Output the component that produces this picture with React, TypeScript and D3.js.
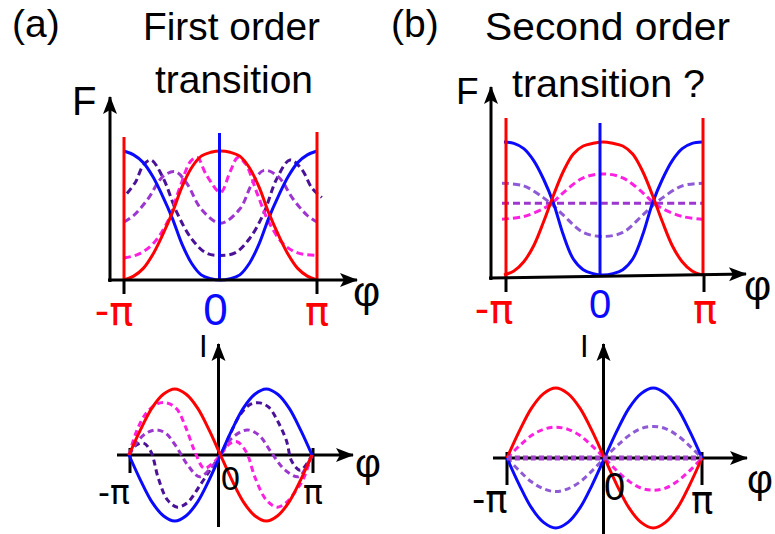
import * as d3 from 'd3'

type Pt = [number, number]

// φ is given in units of π; F is normalised to its maximum, I to the critical current
const PHI_LABELS = ['-π', '0', 'π']
const TITLE_A = ['First order', 'transition']
const TITLE_B = ['Second order', 'transition ?']

// (a) free energy
const A_F_RED: Pt[] = [[-1, 0], [-0.9, 0.03], [-0.8, 0.09], [-0.7, 0.2], [-0.6, 0.35], [-0.5, 0.52], [-0.4, 0.72], [-0.3, 0.87], [-0.2, 0.96], [-0.1, 0.99], [0, 1], [0.1, 0.99], [0.2, 0.96], [0.3, 0.87], [0.4, 0.72], [0.5, 0.52], [0.6, 0.35], [0.7, 0.2], [0.8, 0.09], [0.9, 0.03], [1, 0]]
const A_F_BLUE: Pt[] = [[-1, 1], [-0.9, 0.97], [-0.8, 0.91], [-0.7, 0.8], [-0.6, 0.65], [-0.5, 0.48], [-0.4, 0.28], [-0.3, 0.13], [-0.2, 0.04], [-0.1, 0.01], [0, 0], [0.1, 0.01], [0.2, 0.04], [0.3, 0.13], [0.4, 0.28], [0.5, 0.48], [0.6, 0.65], [0.7, 0.8], [0.8, 0.91], [0.9, 0.97], [1, 1]]
const A_F_INDIGO: Pt[] = [[-0.97, 0.67], [-0.88, 0.76], [-0.8, 0.89], [-0.72, 0.93], [-0.6, 0.8], [-0.45, 0.52], [-0.3, 0.32], [-0.15, 0.21], [0, 0.19], [0.15, 0.21], [0.3, 0.32], [0.45, 0.52], [0.58, 0.78], [0.72, 0.93], [0.84, 0.86], [0.95, 0.71], [1.05, 0.64]]
const A_F_ORCHID: Pt[] = [[-1, 0.45], [-0.9, 0.5], [-0.75, 0.63], [-0.6, 0.8], [-0.47, 0.84], [-0.35, 0.75], [-0.2, 0.55], [0, 0.44], [0.2, 0.55], [0.33, 0.75], [0.45, 0.85], [0.6, 0.8], [0.75, 0.63], [0.9, 0.5], [1, 0.45]]
const A_F_MAGENTA: Pt[] = [[-1, 0.17], [-0.85, 0.2], [-0.7, 0.28], [-0.55, 0.45], [-0.42, 0.72], [-0.31, 0.92], [-0.24, 0.95], [-0.15, 0.82], [0, 0.68], [0.1, 0.84], [0.18, 0.95], [0.26, 0.9], [0.38, 0.67], [0.5, 0.45], [0.65, 0.28], [0.8, 0.21], [1, 0.19]]

// (b) free energy
const B_F_RED: Pt[] = [[-1, 0], [-0.9, 0.03], [-0.8, 0.1], [-0.7, 0.22], [-0.6, 0.4], [-0.5, 0.6], [-0.4, 0.78], [-0.3, 0.91], [-0.2, 0.97], [-0.1, 0.99], [0, 1], [0.1, 0.99], [0.2, 0.97], [0.3, 0.91], [0.4, 0.78], [0.5, 0.6], [0.6, 0.4], [0.7, 0.22], [0.8, 0.1], [0.9, 0.03], [1, 0]]
const B_F_BLUE: Pt[] = [[-1, 1], [-0.9, 0.99], [-0.8, 0.95], [-0.7, 0.86], [-0.6, 0.72], [-0.5, 0.54], [-0.4, 0.3], [-0.3, 0.12], [-0.2, 0.04], [-0.1, 0.01], [0, 0], [0.1, 0.01], [0.2, 0.04], [0.3, 0.12], [0.4, 0.3], [0.5, 0.54], [0.6, 0.72], [0.7, 0.86], [0.8, 0.95], [0.9, 0.99], [1, 1]]
const B_F_MAGENTA: Pt[] = [[-1.02, 0.42], [-0.8, 0.44], [-0.6, 0.5], [-0.5, 0.55], [-0.4, 0.62], [-0.2, 0.73], [0, 0.76], [0.2, 0.73], [0.4, 0.62], [0.5, 0.55], [0.6, 0.5], [0.8, 0.44], [1, 0.42]]
const B_F_LAVENDER: Pt[] = [[-1.02, 0.69], [-0.8, 0.67], [-0.6, 0.58], [-0.5, 0.52], [-0.4, 0.45], [-0.2, 0.32], [0, 0.29], [0.2, 0.32], [0.4, 0.45], [0.5, 0.52], [0.6, 0.58], [0.8, 0.67], [1, 0.69]]
const B_F_FLAT: Pt[] = [[-1.02, 0.54], [0, 0.54], [1, 0.54]]

// (a) current
const A_I_RED: Pt[] = [[-1, 0], [-0.875, 0.38], [-0.75, 0.71], [-0.625, 0.92], [-0.5, 1], [-0.375, 0.92], [-0.25, 0.71], [-0.125, 0.38], [0, 0], [0.125, -0.38], [0.25, -0.71], [0.375, -0.92], [0.5, -1], [0.625, -0.92], [0.75, -0.71], [0.875, -0.38], [1, 0]]
const A_I_BLUE: Pt[] = [[-1, 0], [-0.875, -0.38], [-0.75, -0.71], [-0.625, -0.92], [-0.5, -1], [-0.375, -0.92], [-0.25, -0.71], [-0.125, -0.38], [0, 0], [0.125, 0.38], [0.25, 0.71], [0.375, 0.92], [0.5, 1], [0.625, 0.92], [0.75, 0.71], [0.875, 0.38], [1, 0]]
const A_I_MAGENTA: Pt[] = [[-1, 0], [-0.92, 0.35], [-0.82, 0.62], [-0.7, 0.77], [-0.59, 0.79], [-0.48, 0.7], [-0.38, 0.42], [-0.28, 0.05], [-0.18, -0.2], [-0.08, -0.12], [0, 0], [0.1, 0.17], [0.18, 0.2], [0.28, 0.05], [0.38, -0.35], [0.5, -0.68], [0.62, -0.79], [0.72, -0.72], [0.82, -0.55], [0.9, -0.38], [0.95, -0.2], [1, 0]]
const A_I_ORCHID: Pt[] = [[-1, 0], [-0.9, 0.22], [-0.8, 0.34], [-0.7, 0.38], [-0.6, 0.33], [-0.48, 0.12], [-0.36, -0.15], [-0.23, -0.33], [-0.12, -0.22], [0, 0], [0.12, 0.25], [0.29, 0.38], [0.42, 0.3], [0.55, 0.05], [0.7, -0.22], [0.85, -0.33], [0.93, -0.2], [1, 0]]
const A_I_INDIGO: Pt[] = [[-1, 0], [-0.92, 0.15], [-0.84, 0.18], [-0.76, 0.05], [-0.68, -0.35], [-0.58, -0.68], [-0.47, -0.79], [-0.36, -0.72], [-0.22, -0.45], [-0.1, -0.2], [0, 0], [0.1, 0.3], [0.22, 0.62], [0.33, 0.77], [0.43, 0.79], [0.53, 0.72], [0.63, 0.5], [0.72, 0.22], [0.78, -0.1], [0.87, -0.23], [0.95, -0.12], [1, 0]]

// (b) current
const B_I_RED: Pt[] = A_I_RED
const B_I_BLUE: Pt[] = A_I_BLUE
const B_I_MAGENTA: Pt[] = [[-1, 0], [-0.875, 0.17], [-0.75, 0.32], [-0.625, 0.41], [-0.5, 0.44], [-0.375, 0.41], [-0.25, 0.32], [-0.125, 0.17], [0, 0], [0.125, -0.18], [0.25, -0.33], [0.375, -0.43], [0.5, -0.46], [0.625, -0.43], [0.75, -0.33], [0.875, -0.18], [1, 0]]
const B_I_LAVENDER: Pt[] = [[-1, 0], [-0.875, -0.18], [-0.75, -0.34], [-0.625, -0.44], [-0.5, -0.48], [-0.375, -0.44], [-0.25, -0.34], [-0.125, -0.18], [0, 0], [0.125, 0.17], [0.25, 0.32], [0.375, 0.42], [0.5, 0.45], [0.625, 0.42], [0.75, 0.32], [0.875, 0.17], [1, 0]]
const B_I_FLAT: Pt[] = [[-1, 0], [0, 0], [1, 0]]

const RED = '#ff0000'
const BLUE = '#0a0aff'
const MAGENTA = '#ff1fe0'
const ORCHID = '#9d35cf'
const INDIGO = '#4a1299'
const LAVENDER = '#8e5ad6'
const FONT = 'Liberation Sans, Arial, sans-serif'
const PI_FONT = 'DejaVu Sans, sans-serif'

type Series = { pts: Pt[]; color: string; dash?: string; width?: number }

function Curves({ series, x, y }: { series: Series[]; x: d3.ScaleLinear<number, number>; y: d3.ScaleLinear<number, number> }) {
  const line = d3.line<Pt>().x(d => x(d[0])).y(d => y(d[1])).curve(d3.curveCatmullRom.alpha(0.5))
  return (
    <g fill="none">
      {series.map((s, i) => (
        <path key={i} d={line(s.pts) || ''} stroke={s.color} strokeWidth={s.width ?? 3} strokeDasharray={s.dash} />
      ))}
    </g>
  )
}

const DASH = '7,4'

export default function App() {
  // top panels: F(φ)
  const xa = d3.scaleLinear().domain([-1, 1]).range([124, 317])
  const ya = d3.scaleLinear().domain([0, 1]).range([280, 151])
  const xb = d3.scaleLinear().domain([-1, 1]).range([504, 702])
  const yb = d3.scaleLinear().domain([0, 1]).range([275, 142])
  // bottom panels: I(φ)
  const xc = d3.scaleLinear().domain([-1, 1]).range([129, 312])
  const yc = d3.scaleLinear().domain([-1, 1]).range([521, 389])
  const xd = d3.scaleLinear().domain([-1, 1]).range([507, 702])
  const yd = d3.scaleLinear().domain([-1, 1]).range([528, 388])

  const txt = { fontFamily: FONT }
  const pi = { fontFamily: PI_FONT }

  return (
    <svg width={775} height={534} style={{ position: 'absolute', left: 0, top: 0, background: '#fff' }}>
      <defs>
        <marker id="arr" viewBox="-20 -10 22 20" refX={0} refY={0} markerWidth={22} markerHeight={20}
          markerUnits="userSpaceOnUse" orient="auto">
          <path d="M1,0 L-17,-7 L-13,0 L-17,7 Z" fill="#000" />
        </marker>
      </defs>

      {/* titles */}
      <g {...txt} fontSize={39} fill="#000">
        <text x={12} y={37}>(a)</text>
        <text x={143} y={40} textLength={177} lengthAdjust="spacingAndGlyphs">{TITLE_A[0]}</text>
        <text x={155} y={93} textLength={158} lengthAdjust="spacingAndGlyphs">{TITLE_A[1]}</text>
        <text x={391} y={37}>(b)</text>
        <text x={485} y={40} textLength={245} lengthAdjust="spacingAndGlyphs">{TITLE_B[0]}</text>
        <text x={512} y={97} textLength={193} lengthAdjust="spacingAndGlyphs">{TITLE_B[1]}</text>
      </g>

      {/* ---------- (a) top: F ---------- */}
      <g>
        <Curves x={xa} y={ya} series={[
          { pts: A_F_INDIGO, color: INDIGO, dash: DASH },
          { pts: A_F_ORCHID, color: ORCHID, dash: DASH },
          { pts: A_F_MAGENTA, color: MAGENTA, dash: DASH },
          { pts: A_F_BLUE, color: BLUE },
          { pts: A_F_RED, color: RED },
        ]} />
        <line x1={xa(0) - 1} x2={xa(0) - 1} y1={133} y2={280} stroke={BLUE} strokeWidth={3} />
        <line x1={xa(-1)} x2={xa(-1)} y1={137} y2={280} stroke={RED} strokeWidth={3} />
        <line x1={xa(1)} x2={xa(1)} y1={132} y2={280} stroke={RED} strokeWidth={3} />
        <line x1={110} x2={110} y1={282} y2={97} stroke="#000" strokeWidth={3} markerEnd="url(#arr)" />
        <line x1={108} x2={357} y1={280} y2={280} stroke="#000" strokeWidth={3} markerEnd="url(#arr)" />
        {[-1, 1].map(v => <line key={v} x1={xa(v)} x2={xa(v)} y1={280} y2={294} stroke="#000" strokeWidth={3} />)}
        <text {...txt} x={72} y={115} fontSize={40}>F</text>
        <text {...txt} x={353} y={306} fontSize={42}>φ</text>
        <text {...pi} x={xa(-1) - 10} y={325} fontSize={40} fill={RED} textAnchor="middle">{PHI_LABELS[0]}</text>
        <text {...txt} x={xa(0) - 5} y={325} fontSize={44} fill={BLUE} textAnchor="middle">{PHI_LABELS[1]}</text>
        <text {...pi} x={xa(1)} y={325} fontSize={40} fill={RED} textAnchor="middle">{PHI_LABELS[2]}</text>
      </g>

      {/* ---------- (b) top: F ---------- */}
      <g>
        <Curves x={xb} y={yb} series={[
          { pts: B_F_MAGENTA, color: MAGENTA, dash: DASH },
          { pts: B_F_LAVENDER, color: LAVENDER, dash: DASH },
          { pts: B_F_FLAT, color: ORCHID, dash: DASH },
          { pts: B_F_BLUE, color: BLUE },
          { pts: B_F_RED, color: RED },
        ]} />
        <line x1={xb(0) - 3} x2={xb(0) - 3} y1={123} y2={276} stroke={BLUE} strokeWidth={3} />
        <line x1={xb(-1) + 2} x2={xb(-1) + 2} y1={118} y2={277} stroke={RED} strokeWidth={3} />
        <line x1={xb(1) + 1} x2={xb(1) + 1} y1={118} y2={275} stroke={RED} strokeWidth={3} />
        <line x1={491} x2={491} y1={280} y2={87} stroke="#000" strokeWidth={3} markerEnd="url(#arr)" />
        <line x1={489} x2={746} y1={278} y2={274} stroke="#000" strokeWidth={3} markerEnd="url(#arr)" />
        <line x1={xb(-1) + 2} x2={xb(-1) + 2} y1={277} y2={292} stroke="#000" strokeWidth={3} />
        <line x1={xb(1) + 2} x2={xb(1) + 2} y1={274} y2={292} stroke="#000" strokeWidth={3} />
        <text {...txt} x={456} y={104} fontSize={37}>F</text>
        <text {...txt} x={744} y={300} fontSize={42}>φ</text>
        <text {...pi} x={xb(-1) - 10} y={323} fontSize={40} fill={RED} textAnchor="middle">{PHI_LABELS[0]}</text>
        <text {...txt} x={xb(0) - 3} y={318} fontSize={40} fill={BLUE} textAnchor="middle">{PHI_LABELS[1]}</text>
        <text {...pi} x={xb(1) + 3} y={323} fontSize={40} fill={RED} textAnchor="middle">{PHI_LABELS[2]}</text>
      </g>

      {/* ---------- (a) bottom: I ---------- */}
      <g>
        <line x1={117} x2={353} y1={455} y2={455} stroke="#000" strokeWidth={3} markerEnd="url(#arr)" />
        <line x1={xc(0) - 2} x2={xc(0) - 2} y1={527} y2={344} stroke="#000" strokeWidth={3} markerEnd="url(#arr)" />
        <line x1={xc(-1) + 1} x2={xc(-1) + 1} y1={448} y2={473} stroke="#000" strokeWidth={3} />
        <line x1={xc(1) + 1} x2={xc(1) + 1} y1={448} y2={473} stroke="#000" strokeWidth={3} />
        <Curves x={xc} y={yc} series={[
          { pts: A_I_INDIGO, color: INDIGO, dash: '6,4' },
          { pts: A_I_ORCHID, color: ORCHID, dash: '6,4' },
          { pts: A_I_MAGENTA, color: MAGENTA, dash: '6,4' },
          { pts: A_I_BLUE, color: BLUE },
          { pts: A_I_RED, color: RED },
        ]} />
        <text {...txt} x={199} y={357} fontSize={31}>I</text>
        <text {...txt} x={355} y={477} fontSize={40}>φ</text>
        <text {...pi} x={98} y={504} fontSize={33}>{PHI_LABELS[0]}</text>
        <text {...txt} x={221} y={490} fontSize={34}>{PHI_LABELS[1]}</text>
        <text {...pi} x={303} y={504} fontSize={33}>{PHI_LABELS[2]}</text>
      </g>

      {/* ---------- (b) bottom: I ---------- */}
      <g>
        <line x1={493} x2={747} y1={458} y2={458} stroke="#000" strokeWidth={3} markerEnd="url(#arr)" />
        <line x1={xd(0) - 1} x2={xd(0) - 1} y1={534} y2={344} stroke="#000" strokeWidth={3} markerEnd="url(#arr)" />
        <line x1={xd(-1)} x2={xd(-1)} y1={452} y2={485} stroke="#000" strokeWidth={3} />
        <line x1={xd(1)} x2={xd(1)} y1={452} y2={485} stroke="#000" strokeWidth={3} />
        <Curves x={xd} y={yd} series={[
          { pts: B_I_MAGENTA, color: MAGENTA, dash: '6,4' },
          { pts: B_I_LAVENDER, color: LAVENDER, dash: '6,4' },
          { pts: B_I_BLUE, color: BLUE },
          { pts: B_I_RED, color: RED },
          { pts: B_I_FLAT, color: '#a33fcc', dash: '5,3', width: 5 },
        ]} />
        <text {...txt} x={580} y={357} fontSize={31}>I</text>
        <text {...txt} x={747} y={493} fontSize={40}>φ</text>
        <text {...pi} x={472} y={512} fontSize={37}>{PHI_LABELS[0]}</text>
        <text {...txt} x={604} y={500} fontSize={38}>{PHI_LABELS[1]}</text>
        <text {...pi} x={691} y={513} fontSize={37}>{PHI_LABELS[2]}</text>
      </g>
    </svg>
  )
}
